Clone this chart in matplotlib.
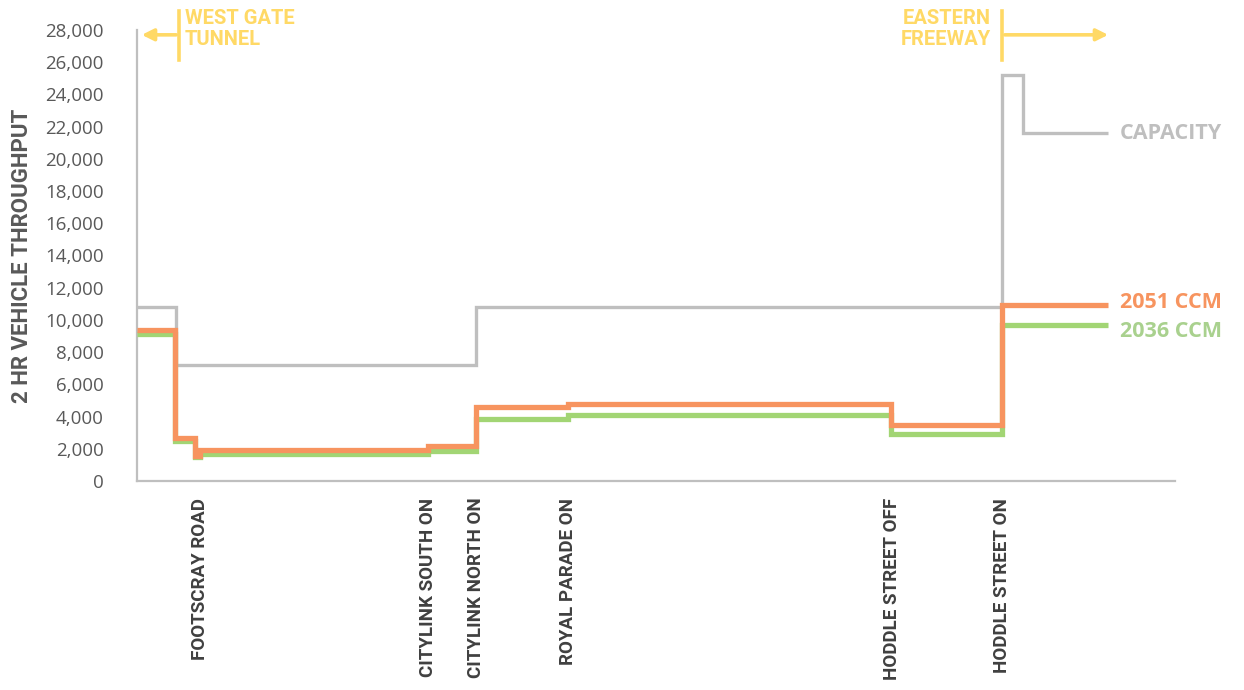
import matplotlib
matplotlib.use("Agg")
import matplotlib.pyplot as plt
import numpy as np

# ---- data ----
cap_edges = [0, 3.9, 33.9, 86.5, 88.6, 97.1]
cap_values = [10800, 7200, 10800, 25200, 21600]

edges_2051 = [0, 3.8, 5.8, 6.3, 29.1, 33.9, 43.1, 75.4, 86.5, 97.1]
values_2051 = [9400, 2700, 1550, 1900, 2200, 4600, 4800, 3500, 10900]

edges_2036 = [0, 3.8, 5.8, 6.3, 29.1, 33.9, 43.1, 75.4, 86.5, 97.1]
values_2036 = [9100, 2500, 1500, 1700, 1850, 3850, 4100, 2900, 9700]

tick_pos = [6.3, 29.1, 33.9, 43.1, 75.5, 86.5]
tick_labels = ["FOOTSCRAY ROAD", "CITYLINK SOUTH ON", "CITYLINK NORTH ON",
               "ROYAL PARADE ON", "HODDLE STREET OFF", "HODDLE STREET ON"]
yticks = list(range(0, 28001, 2000))

GREY = "#BFBFBF"
ORANGE = "#F7945F"
GREEN = "#A2D574"
YELLOW = "#FFD966"

fig = plt.figure(figsize=(12.44, 6.9), dpi=100)
ax = fig.add_axes([137/1244, 1-481/690, (1175-137)/1244, (481-30)/690])

ax.stairs(cap_values, cap_edges, baseline=None, color=GREY, lw=2.4, zorder=2)
ax.stairs(values_2036, edges_2036, baseline=None, color=GREEN, lw=3.8, zorder=3)
ax.stairs(values_2051, edges_2051, baseline=None, color=ORANGE, lw=3.8, zorder=4)

ax.set_xlim(0, 103.8)
ax.set_ylim(0, 28000)

for s in ["top", "right"]:
    ax.spines[s].set_visible(False)
for s in ["left", "bottom"]:
    ax.spines[s].set_color(GREY)
    ax.spines[s].set_linewidth(1.6)

ax.set_yticks(yticks)
ax.set_yticklabels([f"{v:,}" for v in yticks], fontfamily="Open Sans",
                   fontsize=13.5, color="#595959")
ax.tick_params(axis="y", length=0, pad=24)

ax.set_xticks(tick_pos)
ax.set_xticklabels(tick_labels, rotation=90, fontfamily="Roboto",
                   fontweight="bold", fontsize=13.5, color="#404040",
                   ha="center", va="top")
ax.tick_params(axis="x", length=0, pad=12)

fig.text(22/1244, 1-256/690, "2 HR VEHICLE THROUGHPUT", rotation=90,
         fontfamily="Roboto", fontweight="bold", fontsize=16,
         color="#595959", ha="center", va="center")

# series labels
ax.text(98.3, 21600, "CAPACITY", color=GREY, fontsize=15.5, fontweight="bold",
        fontfamily="Open Sans", va="center", ha="left")
ax.text(98.3, 11100, "2051 CCM", color=ORANGE, fontsize=15.5, fontweight="bold",
        fontfamily="Open Sans", va="center", ha="left")
ax.text(98.3, 9300, "2036 CCM", color="#A9D18E", fontsize=15.5, fontweight="bold",
        fontfamily="Open Sans", va="center", ha="left")

# West Gate Tunnel annotation
ax.plot([4.2, 4.2], [26150, 29200], color=YELLOW, lw=2.6, clip_on=False)
ax.annotate("", xy=(0.2, 27700), xytext=(4.2, 27700),
            arrowprops=dict(arrowstyle="-|>,head_length=0.7,head_width=0.35",
                            color=YELLOW, lw=2.6), annotation_clip=False)
ax.text(4.8, 29300, "WEST GATE\nTUNNEL", color=YELLOW, fontsize=14.5,
        fontweight="bold", fontfamily="Roboto", va="top", ha="left",
        linespacing=1.1)

# Eastern Freeway annotation
ax.plot([86.5, 86.5], [26150, 29200], color=YELLOW, lw=2.6, clip_on=False)
ax.annotate("", xy=(97.4, 27700), xytext=(86.5, 27700),
            arrowprops=dict(arrowstyle="-|>,head_length=0.7,head_width=0.35",
                            color=YELLOW, lw=2.6), annotation_clip=False)
ax.text(85.4, 29300, "EASTERN\nFREEWAY", color=YELLOW, fontsize=14.5,
        fontweight="bold", fontfamily="Roboto", va="top", ha="right",
        multialignment="right", linespacing=1.1)

fig.savefig("out.png", dpi=100)
